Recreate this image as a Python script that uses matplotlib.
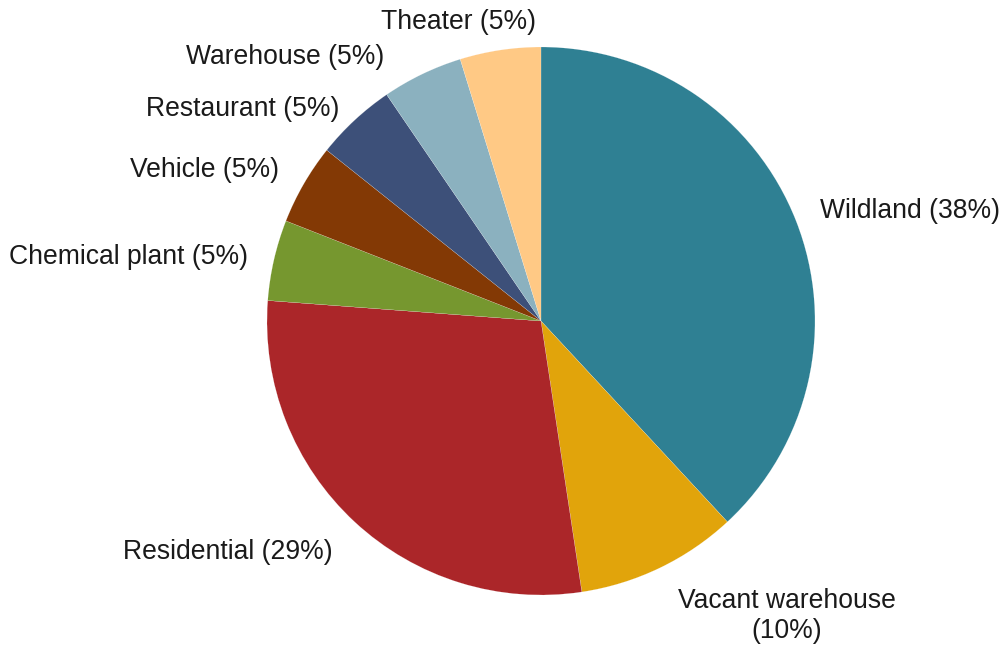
import matplotlib
matplotlib.use("Agg")
import matplotlib.pyplot as plt

categories = ["Wildland", "Vacant warehouse", "Residential", "Chemical plant",
              "Vehicle", "Restaurant", "Warehouse", "Theater"]
counts = [8, 2, 6, 1, 1, 1, 1, 1]
colors = ["#2F8093", "#E1A40B", "#AB2629", "#76972F",
          "#833905", "#3D5079", "#8BB1BF", "#FFC985"]

# label anchor positions (data coords, pie radius = 1) and alignment
label_pos = [(1.018, 0.400, "left"), (0.898, -1.078, "center"), (-0.759, -0.843, "right"),
             (-1.069, 0.234, "right"), (-0.956, 0.551, "right"), (-0.737, 0.774, "right"),
             (-0.573, 0.964, "right"), (-0.018, 1.092, "right")]

plt.rcParams['font.family'] = ['Liberation Sans', 'DejaVu Sans']

W, H = 1004, 648
fig = plt.figure(figsize=(W / 100, H / 100), dpi=100)
cx, cy, r = 541, 321, 274
ax = fig.add_axes([(cx - r) / W, (H - cy - r) / H, 2 * r / W, 2 * r / H])
ax.pie(counts, colors=colors, startangle=90, counterclock=False, radius=1,
       wedgeprops=dict(edgecolor="white", linewidth=0.1))
ax.set_xlim(-1, 1)
ax.set_ylim(-1, 1)
ax.set_aspect("equal")
ax.axis("off")

total = sum(counts)
for cat, v, (x, y, ha) in zip(categories, counts, label_pos):
    pct = round(100 * v / total)
    if cat == "Vacant warehouse":
        txt = f"{cat}\n({pct}%)"
    else:
        txt = f"{cat} ({pct}%)"
    ax.text(x, y, txt, ha=ha, va="center", fontsize=19.1, color="#1a1a1a",
            multialignment="center", linespacing=1.2, clip_on=False)

fig.savefig("out.png", dpi=100)
